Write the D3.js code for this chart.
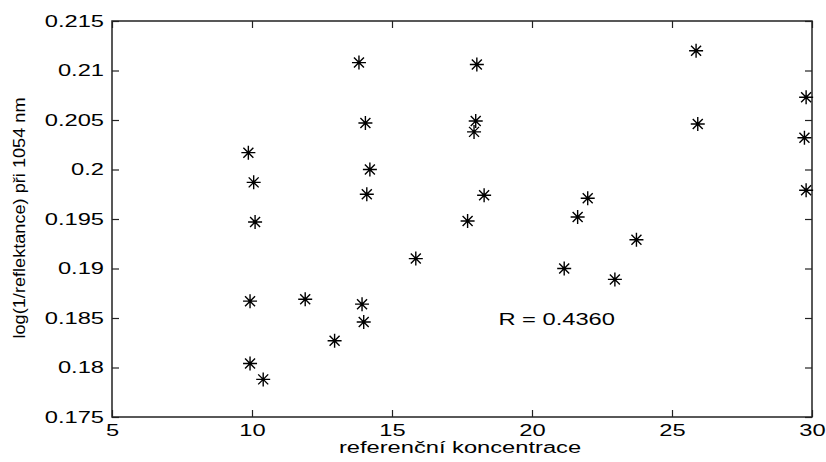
<!DOCTYPE html>
<html>
<head>
<meta charset="utf-8">
<script src="https://cdn.jsdelivr.net/npm/d3@7"></script>
<style>
  body { margin: 0; background: #fff; }
  svg text { font-family: "Liberation Sans", Arial, sans-serif; fill: #000; }
</style>
</head>
<body>
<div id="chart"></div>
<script>
const concentration = [
  9.87, 10.06, 10.11, 9.93, 9.93, 10.40, 11.90, 12.95, 13.82, 14.05,
  14.21, 14.10, 13.93, 13.99, 15.85, 17.70, 18.03, 17.99, 17.93, 18.29,
  21.15, 21.63, 21.99, 22.96, 23.73, 25.86, 25.92, 29.79, 29.73, 29.79,
];
const absorbance = [
  0.2017, 0.1987, 0.1947, 0.1867, 0.1804, 0.1788, 0.1869, 0.1827, 0.2108, 0.2047,
  0.2000, 0.1975, 0.1864, 0.1846, 0.1910, 0.1948, 0.2106, 0.2049, 0.2038, 0.1974,
  0.1900, 0.1952, 0.1971, 0.1889, 0.1929, 0.2120, 0.2046, 0.2073, 0.2032, 0.1979,
];
const xTicks = [5, 10, 15, 20, 25, 30];
const yTicks = [0.175, 0.18, 0.185, 0.19, 0.195, 0.2, 0.205, 0.21, 0.215];
const xLabel = 'referenční koncentrace';
const yLabel = 'log(1/reflektance) při 1054 nm';
const note = 'R = 0.4360';

const margin = { top: 21, right: 14, bottom: 45, left: 112 };
const width = 826 - margin.left - margin.right;
const height = 462 - margin.top - margin.bottom;

// the reference has its text widened, so stretch horizontal texts
const stretch = 1.48;

const svg = d3
  .select('#chart')
  .append('svg')
  .attr('width', 826)
  .attr('height', 462);

const g = svg.append('g').attr('transform', `translate(${margin.left}, ${margin.top})`);

const xScale = d3.scaleLinear().domain([5, 30]).range([0, width]);
const yScale = d3.scaleLinear().domain([0.175, 0.215]).range([height, 0]);

const fmtY = (d) => String(+d.toFixed(3));

const styleAxis = (sel) => {
  sel.select('.domain').remove();
  sel.selectAll('.tick line').attr('stroke', '#222').attr('stroke-width', 1.2);
  sel.selectAll('.tick text').attr('class', 'wide').style('font-size', '16px');
};

// bottom and left axes with inward ticks
g.append('g')
  .attr('transform', `translate(0, ${height})`)
  .call(d3.axisBottom(xScale).tickValues(xTicks).tickSizeInner(-7).tickSizeOuter(0).tickPadding(8))
  .call(styleAxis);

g.append('g')
  .call(d3.axisLeft(yScale).tickValues(yTicks).tickFormat(fmtY).tickSizeInner(-7).tickSizeOuter(0).tickPadding(8))
  .call(styleAxis);

// top and right ticks, no labels
g.append('g')
  .call(d3.axisTop(xScale).tickValues(xTicks).tickFormat('').tickSizeInner(-7).tickSizeOuter(0))
  .call(styleAxis);

g.append('g')
  .attr('transform', `translate(${width}, 0)`)
  .call(d3.axisRight(yScale).tickValues(yTicks).tickFormat('').tickSizeInner(-7).tickSizeOuter(0))
  .call(styleAxis);

g.append('rect')
  .attr('width', width)
  .attr('height', height)
  .attr('fill', 'none')
  .attr('stroke', '#222')
  .attr('stroke-width', 1.5);

// asterisk markers
const star = 'M-7,0L7,0M0,-7L0,7M-5,-5L5,5M-5,5L5,-5';
g.selectAll('.pt')
  .data(concentration)
  .enter()
  .append('path')
  .attr('class', 'pt')
  .attr('d', star)
  .attr('transform', (d, i) => `translate(${xScale(d)}, ${yScale(absorbance[i])})`)
  .attr('stroke', '#000')
  .attr('stroke-width', 1.4)
  .attr('fill', 'none');

g.append('text')
  .attr('class', 'wide')
  .attr('x', xScale(18.8))
  .attr('y', yScale(0.1843))
  .style('font-size', '16px')
  .text(note);

svg.append('text')
  .attr('class', 'wide')
  .attr('x', 460)
  .attr('y', 453)
  .attr('text-anchor', 'middle')
  .style('font-size', '16px')
  .text(xLabel);

svg.append('text')
  .attr('transform', 'rotate(-90)')
  .attr('x', -218)
  .attr('y', 25)
  .attr('text-anchor', 'middle')
  .attr('textLength', 241)
  .attr('lengthAdjust', 'spacingAndGlyphs')
  .style('font-size', '17px')
  .text(yLabel);

svg.selectAll('text.wide').each(function () {
  const w = this.getComputedTextLength();
  d3.select(this)
    .attr('textLength', w * stretch)
    .attr('lengthAdjust', 'spacingAndGlyphs');
});
</script>
</body>
</html>
